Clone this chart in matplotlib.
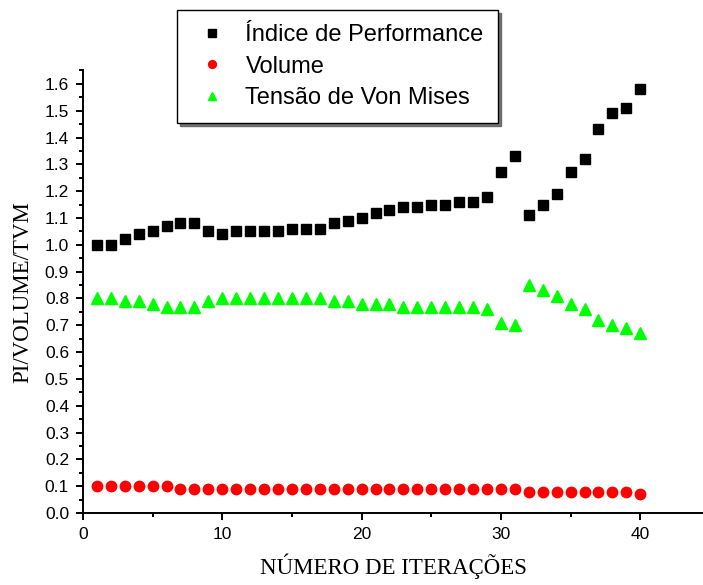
import matplotlib
matplotlib.use("Agg")
import matplotlib.pyplot as plt
from matplotlib.ticker import MultipleLocator

iteracoes = list(range(1, 41))

indice_perf = [1.00, 1.00, 1.02, 1.04, 1.05, 1.07, 1.08, 1.08, 1.05, 1.04,
               1.05, 1.05, 1.05, 1.05, 1.06, 1.06, 1.06, 1.08, 1.09, 1.10,
               1.12, 1.13, 1.14, 1.14, 1.15, 1.15, 1.16, 1.16, 1.18, 1.27,
               1.33, 1.11, 1.15, 1.19, 1.27, 1.32, 1.43, 1.49, 1.51, 1.58]

volume = [0.10] * 6 + [0.09] * 25 + [0.08] * 8 + [0.07]

tensao_vm = [0.80, 0.80, 0.79, 0.79, 0.78, 0.77, 0.77, 0.77, 0.79, 0.80,
             0.80, 0.80, 0.80, 0.80, 0.80, 0.80, 0.80, 0.79, 0.79, 0.78,
             0.78, 0.78, 0.77, 0.77, 0.77, 0.77, 0.77, 0.77, 0.76, 0.71,
             0.70, 0.85, 0.83, 0.81, 0.78, 0.76, 0.72, 0.70, 0.69, 0.67]

fig = plt.figure(figsize=(7.03, 5.85), dpi=100)
ax = fig.add_axes([0.118, 0.123, 0.882, 0.7565])

ax.plot(iteracoes, indice_perf, 's', color='black', markersize=7, label='Índice de Performance')
ax.plot(iteracoes, volume, 'o', color='red', markersize=7.5, label='Volume')
ax.plot(iteracoes, tensao_vm, '^', color='#00ff00', markersize=8.5, label='Tensão de Von Mises')

ax.set_xlim(0, 44.5)
ax.set_ylim(0, 1.65)
ax.xaxis.set_major_locator(MultipleLocator(10))
ax.xaxis.set_minor_locator(MultipleLocator(5))
ax.yaxis.set_major_locator(MultipleLocator(0.1))
ax.yaxis.set_minor_locator(MultipleLocator(0.05))
ax.yaxis.set_major_formatter(matplotlib.ticker.FormatStrFormatter('%.1f'))

for side in ['top', 'right']:
    ax.spines[side].set_visible(False)
for side in ['left', 'bottom']:
    ax.spines[side].set_linewidth(1.4)

ax.tick_params(which='major', direction='out', length=5, width=1.4,
               labelsize=12.5, pad=5)
ax.tick_params(which='minor', direction='out', length=3, width=1.4)
for lbl in ax.get_xticklabels() + ax.get_yticklabels():
    lbl.set_family('Liberation Sans')

ax.set_xlabel('NÚMERO DE ITERAÇÕES', family='Liberation Serif', fontsize=16.5, labelpad=8)
ax.set_ylabel('PI/VOLUME/TVM', family='Liberation Serif', fontsize=16.5, labelpad=8)

leg = ax.legend(loc='upper left', bbox_to_anchor=(177 / 703, 1 - 10 / 585),
                bbox_transform=fig.transFigure, borderaxespad=0,
                prop={'family': 'Liberation Sans', 'size': 17},
                fancybox=False, shadow={'color': '#555555', 'alpha': 0.8}, edgecolor='black',
                markerscale=0.75, handletextpad=0.5, labelspacing=0.4,
                borderpad=0.6, handlelength=1.8)
leg.get_frame().set_linewidth(1.0)

fig.savefig('out.png', dpi=100)
